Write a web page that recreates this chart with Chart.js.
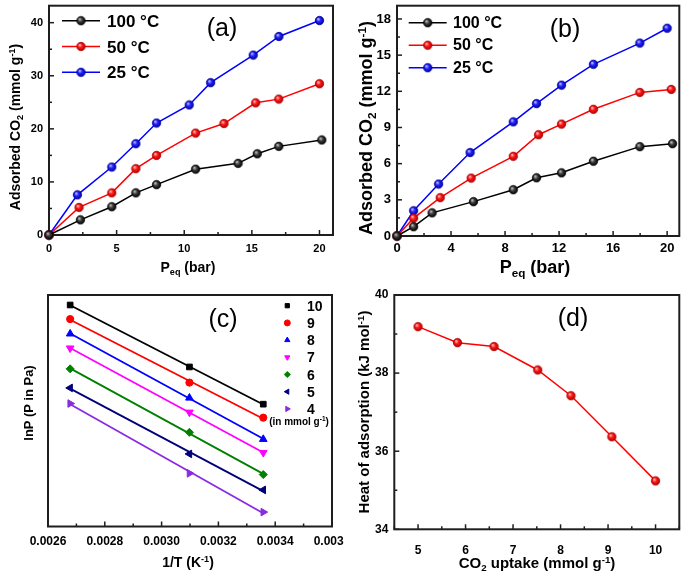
<!DOCTYPE html>
<html><head><meta charset="utf-8">
<script src="https://cdn.jsdelivr.net/npm/chart.js"></script>
<style>
html,body{margin:0;padding:0;background:#fff;width:685px;height:573px;overflow:hidden;font-family:'Liberation Sans',Arial,sans-serif;color:#000}
.pan{position:absolute;overflow:hidden}
.t{position:absolute;white-space:nowrap;line-height:1;font-weight:bold}
.c{transform:translate(-50%,-50%)}
.r{transform:translate(-50%,-50%) rotate(-90deg)}
.l{transform:translateY(-50%)}
.lab{font-weight:normal}
sub,sup{font-size:0.65em;line-height:0;position:relative;vertical-align:baseline}
sub{top:0.35em}
sup{top:-0.55em}
</style></head><body>
<div class="pan" style="left:0;top:0;width:342px;height:286px"><canvas id="ca" width="342" height="286"></canvas></div>
<div class="pan" style="left:342px;top:0;width:343px;height:286px"><canvas id="cb" width="343" height="286"></canvas></div>
<div class="pan" style="left:0;top:286px;width:344px;height:287px"><canvas id="cc" width="344" height="287"></canvas></div>
<div class="pan" style="left:341px;top:286px;width:344px;height:287px"><canvas id="cd" width="344" height="287"></canvas></div>

<div class="t r" style="left:15px;top:127px;font-size:14px">Adsorbed CO<sub>2</sub> (mmol g<sup>-1</sup>)</div>
<div class="t c" style="left:188px;top:267px;font-size:14px">P<sub>eq</sub> (bar)</div>
<div class="t c lab" style="left:222px;top:27px;font-size:25px">(a)</div>

<div class="t r" style="left:366px;top:128px;font-size:18px">Adsorbed CO<sub>2</sub> (mmol g<sup>-1</sup>)</div>
<div class="t c" style="left:535px;top:267px;font-size:18px">P<sub>eq</sub> (bar)</div>
<div class="t c lab" style="left:565px;top:28px;font-size:25px">(b)</div>

<div class="t r" style="left:28px;top:403px;font-size:13px">lnP (P in Pa)</div>
<div class="t c" style="left:188px;top:562px;font-size:14px">1/T (K<sup>-1</sup>)</div>
<div class="t c lab" style="left:223px;top:318px;font-size:25px">(c)</div>
<div class="t c" style="left:299px;top:422px;font-size:10px">(in mmol g<sup>-1</sup>)</div>

<div class="t r" style="left:363px;top:412px;font-size:15px">Heat of adsorption (kJ mol<sup>-1</sup>)</div>
<div class="t c" style="left:537px;top:562px;font-size:15px">CO<sub>2</sub> uptake (mmol g<sup>-1</sup>)</div>
<div class="t c lab" style="left:573px;top:317px;font-size:25px">(d)</div>

<div id="legtext"></div>

<script>
// ---------- DATA ----------
// Panel (a)
const tempLabels = ['100 °C', '50 °C', '25 °C'];
const aP100 = [0, 2.32, 4.64, 6.42, 7.95, 10.84, 13.98, 15.40, 16.99, 20.17];
const aQ100 = [0, 2.85, 5.33, 7.94, 9.49, 12.4, 13.5, 15.3, 16.7, 17.9];
const aP50  = [0, 2.22, 4.64, 6.42, 7.95, 10.84, 12.94, 15.28, 16.99, 20.0];
const aQ50  = [0, 5.2, 7.94, 12.5, 15.0, 19.2, 21.0, 24.9, 25.6, 28.5];
const aP25  = [0, 2.10, 4.64, 6.42, 7.95, 10.37, 11.95, 15.10, 17.0, 20.0];
const aQ25  = [0, 7.57, 12.8, 17.2, 21.1, 24.5, 28.7, 33.9, 37.4, 40.4];
// Panel (b)
const bP100 = [0, 1.23, 2.6, 5.66, 8.61, 10.33, 12.18, 14.54, 17.98, 20.4];
const bQ100 = [0, 0.77, 1.92, 2.85, 3.84, 4.83, 5.24, 6.2, 7.41, 7.66];
const bP50  = [0, 1.23, 3.2, 5.49, 8.61, 10.48, 12.18, 14.54, 17.98, 20.3];
const bQ50  = [0, 1.48, 3.18, 4.8, 6.61, 8.4, 9.28, 10.51, 11.91, 12.16];
const bP25  = [0, 1.23, 3.08, 5.41, 8.61, 10.33, 12.18, 14.54, 17.98, 20.0];
const bQ25  = [0, 2.09, 4.31, 6.92, 9.47, 10.98, 12.51, 14.24, 16.0, 17.23];
// Panel (c)
const invT = [0.002678, 0.003098, 0.003358];
const uptakeLabels = ['10', '9', '8', '7', '6', '5', '4'];
const lnP10 = [17.08, 15.10, 13.91];
const lnP9  = [16.63, 14.60, 13.48];
const lnP8  = [16.16, 14.11, 12.79];
const lnP7  = [15.70, 13.65, 12.36];
const lnP6  = [15.04, 13.01, 11.66];
const lnP5  = [14.43, 12.32, 11.17];
const lnP4  = [13.93, 11.70, 10.46];
// Panel (d)
const uptake = [5.0, 5.83, 6.60, 7.52, 8.22, 9.08, 10.0];
const heat   = [39.19, 38.78, 38.68, 38.08, 37.42, 36.37, 35.24];

// ---------- helpers ----------
const FONT = 'Liberation Sans, Arial, sans-serif';
const pts = (xs, ys) => xs.map((x, i) => ({x, y: ys[i]}));
function sphere(light, color, dark, r) {
  const c = document.createElement('canvas');
  const s = Math.ceil(2 * r + 2); c.width = c.height = s;
  const g = c.getContext('2d'); const cx = s / 2, cy = s / 2;
  const gr = g.createRadialGradient(cx - r * 0.35, cy - r * 0.4, r * 0.05, cx, cy, r);
  gr.addColorStop(0, light); gr.addColorStop(0.45, color); gr.addColorStop(1, dark);
  g.fillStyle = gr; g.beginPath(); g.arc(cx, cy, r, 0, Math.PI * 2); g.fill();
  g.strokeStyle = dark; g.lineWidth = 0.8; g.stroke();
  return c;
}
const sphK = sphere('#d0d0d0', '#404040', '#000000', 4.2);
const sphR = sphere('#ffd0d0', '#ff1a1a', '#b00000', 4.2);
const sphB = sphere('#d0d0ff', '#2525ff', '#0000a0', 4.2);

function fit(xs, ys) {
  const n = xs.length;
  const mx = xs.reduce((a, b) => a + b, 0) / n, my = ys.reduce((a, b) => a + b, 0) / n;
  let sxy = 0, sxx = 0;
  for (let i = 0; i < n; i++) { sxy += (xs[i] - mx) * (ys[i] - my); sxx += (xs[i] - mx) ** 2; }
  const b = sxy / sxx, a = my - b * mx;
  return [{x: xs[0], y: a + b * xs[0]}, {x: xs[n - 1], y: a + b * xs[n - 1]}];
}

const framePlugin = {
  id: 'frame',
  beforeDatasetsDraw(chart, args, opts) {
    const {ctx, chartArea: a, scales} = chart;
    ctx.save();
    ctx.strokeStyle = '#1e1e1e'; ctx.lineWidth = 1.5;
    const drawTicks = (scale, minor, major, horiz) => {
      if (!minor) return;
      const k0 = Math.ceil(scale.min / minor - 1e-6), k1 = Math.floor(scale.max / minor + 1e-6);
      for (let k = k0; k <= k1; k++) {
        const v = k * minor;
        const isMaj = Math.abs(v / major - Math.round(v / major)) < 1e-6;
        const len = isMaj ? 5 : 3;
        const p = scale.getPixelForValue(v);
        ctx.beginPath();
        if (horiz) { ctx.moveTo(p, a.bottom); ctx.lineTo(p, a.bottom - len); }
        else { ctx.moveTo(a.left, p); ctx.lineTo(a.left + len, p); }
        ctx.stroke();
      }
    };
    drawTicks(scales.x, opts.xMinor, scales.x.options.ticks.stepSize, true);
    drawTicks(scales.y, opts.yMinor, scales.y.options.ticks.stepSize, false);
    ctx.lineWidth = 2;
    ctx.strokeRect(a.left, a.top, a.right - a.left, a.bottom - a.top);
    ctx.restore();
  }
};

const legendPlugin = {
  id: 'inlegend',
  afterDatasetsDraw(chart, args, opts) {
    if (!opts.x) return;
    const ctx = chart.ctx;
    let i = 0;
    chart.data.datasets.forEach(ds => {
      if (!ds.inLegend) return;
      const y = opts.y0 + i * opts.dy; i++;
      ctx.save();
      if (opts.half) {
        ctx.strokeStyle = ds.borderColor; ctx.lineWidth = ds.borderWidth;
        ctx.beginPath(); ctx.moveTo(opts.x - opts.half, y); ctx.lineTo(opts.x + opts.half, y); ctx.stroke();
      }
      ctx.fillStyle = ds.backgroundColor; ctx.strokeStyle = ds.borderColor; ctx.lineWidth = 1;
      Chart.helpers.drawPoint(ctx, {pointStyle: ds.pointStyle, rotation: ds.pointRotation || 0, radius: opts.r, borderWidth: 1}, opts.x, y);
      ctx.restore();
    });
  }
};

function axis(min, max, step, size, pad, show, fmt) {
  return {
    type: 'linear', min, max,
    grid: {display: false, drawTicks: false},
    border: {display: false},
    ticks: {display: show, stepSize: step, includeBounds: false, padding: pad, color: '#000',
            font: {family: FONT, weight: 'bold', size},
            callback: fmt},
    afterBuildTicks: s => {
      const k0 = Math.ceil(min / step - 1e-9), k1 = Math.floor(max / step + 1e-9);
      const t = [];
      for (let k = k0; k <= k1; k++) t.push({value: +(k * step).toFixed(10)});
      s.ticks = t;
    }
  };
}
function mk(id, datasets, xs, ys, padding, frameOpts, legOpts) {
  xs.afterFit = s => { s.height = 40; s.paddingLeft = s.paddingRight = s.paddingTop = s.paddingBottom = 0; };
  ys.afterFit = s => { s.width = 40; s.paddingLeft = s.paddingRight = s.paddingTop = s.paddingBottom = 0; };
  return new Chart(document.getElementById(id), {
    type: 'line',
    data: {datasets},
    options: {
      responsive: false, animation: false, devicePixelRatio: 1,
      layout: {padding},
      scales: {x: xs, y: ys},
      plugins: {legend: {display: false}, tooltip: {enabled: false}, frame: frameOpts, inlegend: legOpts || {}}
    },
    plugins: [framePlugin, legendPlugin]
  });
}
function isoDs(label, xs, ys, color, sph) {
  return {label, data: pts(xs, ys), borderColor: color, backgroundColor: color, borderWidth: 1.5,
          pointStyle: sph, pointRadius: 4.2, tension: 0, clip: false, inLegend: true};
}

// ---------- Panel (a) ----------
mk('ca', [
  isoDs(tempLabels[0], aP100, aQ100, '#000000', sphK),
  isoDs(tempLabels[1], aP50, aQ50, '#ff0000', sphR),
  isoDs(tempLabels[2], aP25, aQ25, '#0000ff', sphB)
], axis(0, 21, 5, 11, 7, true), axis(0, 43.2, 10, 11, 6, true),
 {left: 9, right: 9, top: 4, bottom: 11}, {xMinor: 2.5, yMinor: 5},
 {x: 81, y0: 20.7, dy: 25.8, half: 19, r: 4.2});

// ---------- Panel (b) ----------
mk('cb', [
  isoDs(tempLabels[0], bP100, bQ100, '#000000', sphK),
  isoDs(tempLabels[1], bP50, bQ50, '#ff0000', sphR),
  isoDs(tempLabels[2], bP25, bQ25, '#0000ff', sphB)
], axis(0, 20.9, 4, 13, 5, true), axis(0, 19.1, 3, 13, 6, true),
 {left: 15, right: 5, top: 4, bottom: 10}, {xMinor: 2, yMinor: 1.5},
 {x: 85.7, y0: 22.7, dy: 22.5, half: 19, r: 4.2});

// ---------- Panel (c) ----------
const cSeries = [lnP10, lnP9, lnP8, lnP7, lnP6, lnP5, lnP4];
const cColors = ['#000000', '#ff0000', '#0000ff', '#ff00ff', '#008000', '#00007a', '#8a2be2'];
const cStyles = ['rect', 'circle', 'triangle', 'triangle', 'rectRot', 'triangle', 'triangle'];
const cRot = [0, 0, 0, 180, 0, 270, 90];
const cRad = [4, 3.6, 4.4, 4.4, 4, 4.4, 4.4];
const cDs = [];
cSeries.forEach((ys, i) => {
  cDs.push({label: uptakeLabels[i], data: pts(invT, ys), showLine: false, pointStyle: cStyles[i],
            pointRotation: cRot[i], pointRadius: cRad[i], backgroundColor: cColors[i], borderColor: cColors[i],
            borderWidth: 1, clip: false, order: 0, inLegend: true});
  cDs.push({label: uptakeLabels[i] + ' fit', data: fit(invT, ys), pointRadius: 0, borderColor: cColors[i],
            borderWidth: 1.8, clip: false, order: 1});
});
mk('cc', cDs,
 axis(0.0026, 0.0036, 0.0002, 12, 8, true, v => v.toFixed(4)), axis(10, 17.4, 1, 12, 6, false),
 {left: 8, right: 12, top: 9, bottom: 6.5}, {xMinor: 0.0001, yMinor: null},
 {x: 287.3, y0: 19.7, dy: 17.2, half: 0, r: 3});

// ---------- Panel (d) ----------
mk('cd', [
  {label: 'Qst', data: pts(uptake, heat), borderColor: '#ff0000', backgroundColor: '#ff0000', borderWidth: 1.5,
   pointStyle: sphR, pointRadius: 4.2, tension: 0, clip: false}
], axis(4.5, 10.5, 1, 12, 14, true), axis(34, 40, 2, 12, 6, true),
 {left: 13.3, right: 3.3, top: 9, bottom: 3.7}, {xMinor: 0.5, yMinor: 1});

// ---------- legend text (HTML) ----------
const lt = document.getElementById('legtext');
function addText(txt, left, top, size) {
  const d = document.createElement('div');
  d.className = 't l'; d.style.left = left + 'px'; d.style.top = top + 'px'; d.style.fontSize = size + 'px';
  d.textContent = txt; lt.appendChild(d);
}
tempLabels.forEach((s, i) => addText(s, 107, 20.7 + i * 25.8, 17));
tempLabels.forEach((s, i) => addText(s, 453, 22.7 + i * 22.5, 16));
uptakeLabels.forEach((s, i) => addText(s, 307, 305.7 + i * 17.2, 14));
</script>
</body></html>
